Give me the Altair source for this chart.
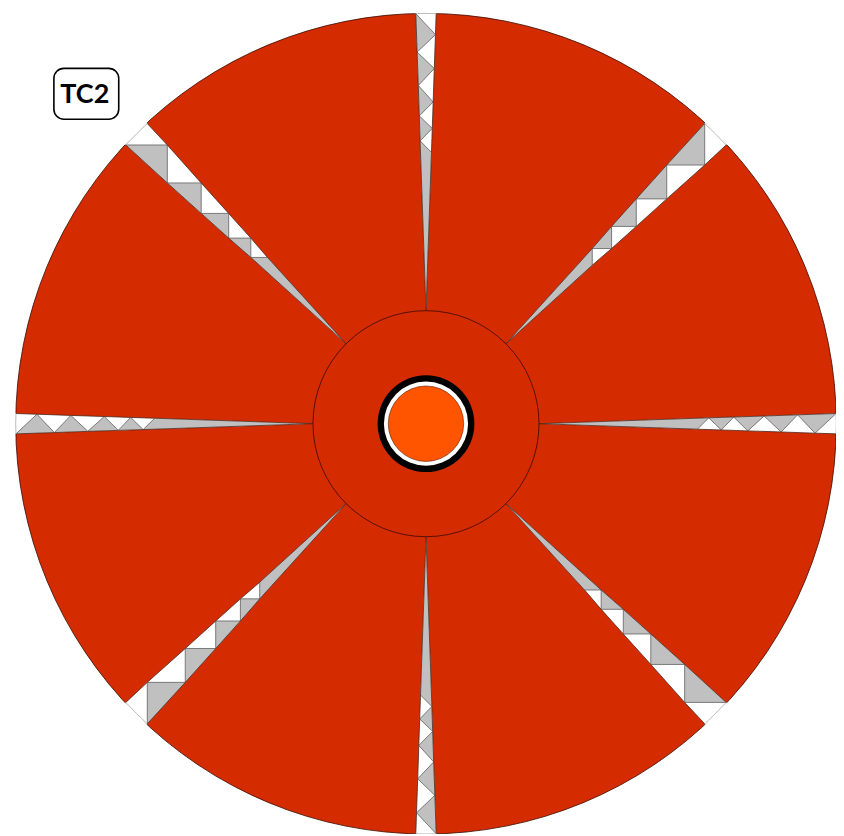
import math
import altair as alt
import pandas as pd

# Geometry, in reference pixels
CENTER = (427.0, 423.7)
RIM_R = 411.3
HUB_R = 113.3
TIP_R = 113.5

# Gap directions (degrees clockwise from up), half width at rim, zigzag stations along the radius.
CARD_ANGLES = [0, 90, 180, 270]
DIAG_ANGLES = [45, 135, 225, 315]
CARD_HW = 10.2
DIAG_HW = 15.2
# stations from rim inward; sides alternate left / right
CARD_NODES = [411.0, 390.0, 372.5, 356.0, 339.0, 322.5, 308.5, 296.0, 283.5, 272.0]
DIAG_NODES = [410.3, 380.9, 354.0, 330.0, 308.4, 288.9, 271.4, 255.7, 242.0, 230.2]
CARD_WIDTHS = [10.2, 9.5, 8.9, 8.3, 7.7, 7.2, 6.7, 6.3, 5.9, 5.5]
DIAG_WIDTHS = [15.2, 14.2, 12.7, 11.3, 10.3, 9.2, 8.3, 7.4, 6.3, 5.5]

RED = "#D42B00"
ORANGE = "#FF5500"
GREY = "#C0C0C0"

rings = pd.DataFrame({
    "name": ["black", "white", "core"],
    "r": [48.5, 42.2, 37.8],
    "fill": ["#000000", "#FFFFFF", ORANGE],
})


def to_xy(angle, u, v):
    a = math.radians(angle)
    dx = u * math.sin(a) + v * math.cos(a)
    dy = -u * math.cos(a) + v * math.sin(a)
    return CENTER[0] + dx, CENTER[1] + dy


wedges, greys, zigs, sides, rims = [], [], [], [], []


def push(rows, pid, pts):
    for i, (x, y) in enumerate(pts):
        rows.append({"pid": pid, "i": i, "x": x, "y": y})


gaps = [(a, CARD_HW, CARD_NODES, CARD_WIDTHS) for a in CARD_ANGLES] + [(a, DIAG_HW, DIAG_NODES, DIAG_WIDTHS) for a in DIAG_ANGLES]
for angle, hw, nodes, widths in gaps:
    rim_u = nodes[0]
    tip = to_xy(angle, TIP_R, 0)
    zz = [to_xy(angle, u, (-1 if k % 2 == 0 else 1) * w) for k, (u, w) in enumerate(zip(nodes, widths))]
    left_edge = zz[0::2]
    rrim = to_xy(angle, rim_u, hw)
    right_edge = [rrim] + zz[1::2]
    lout = to_xy(angle, rim_u + 1.2, -hw)
    rout = to_xy(angle, rim_u + 1.2, hw)
    mid_out = to_xy(angle, rim_u + 2.2, 0)
    push(wedges, f"{angle}", [tip] + left_edge[::-1] + [lout, mid_out, rout] + right_edge)
    for k in range(0, len(nodes) - 2, 2):
        push(greys, f"{angle}-{k}", [zz[k], zz[k + 1], zz[k + 2]])
    push(greys, f"{angle}-tip", [zz[-2], zz[-1], tip])
    push(zigs, f"{angle}", zz)
    push(sides, f"{angle}-l", left_edge + [tip])
    push(sides, f"{angle}-r", right_edge + [tip])
    push(rims, f"{angle}", [zz[0], to_xy(angle, rim_u + 0.3, 0), rrim])

X_SCALE = alt.Scale(domain=[8, 838], nice=False, zero=False)
Y_SCALE = alt.Scale(domain=[834, 8], nice=False, zero=False)
X = alt.X("x:Q", scale=X_SCALE, axis=None)
Y = alt.Y("y:Q", scale=Y_SCALE, axis=None)


def circle(r, fill, stroke=None, sw=0):
    kw = dict(size=(2 * r) ** 2, fill=fill, opacity=1, fillOpacity=1)
    if stroke:
        kw.update(stroke=stroke, strokeWidth=sw)
    else:
        kw.update(strokeWidth=0)
    return alt.Chart(pd.DataFrame({"x": [CENTER[0]], "y": [CENTER[1]]})).mark_circle(**kw).encode(x=X, y=Y)


def poly(rows, fill):
    return alt.Chart(pd.DataFrame(rows)).mark_line(fill=fill, strokeWidth=0, interpolate="linear-closed").encode(
        x=X, y=Y, detail="pid:N", order="i:Q"
    )


def lines(rows, color, width):
    return alt.Chart(pd.DataFrame(rows)).mark_line(color=color, strokeWidth=width).encode(
        x=X, y=Y, detail="pid:N", order="i:Q"
    )


label = pd.DataFrame({"x": [54.0], "x2": [119.0], "y": [67.5], "y2": [118.5], "tx": [85.0], "ty": [94.0], "t": ["TC2"]})
box = alt.Chart(label).mark_rect(fill="white", stroke="black", strokeWidth=1.6, cornerRadius=10).encode(
    x=X, x2="x2:Q", y=Y, y2="y2:Q"
)
text = alt.Chart(label).mark_text(
    font="Lato", fontWeight="bold", fontSize=27, color="black", align="center", baseline="middle"
).encode(x=alt.X("tx:Q", scale=X_SCALE, axis=None), y=alt.Y("ty:Q", scale=Y_SCALE, axis=None), text="t:N")

layers = [
    circle(RIM_R, RED, "#3A0A00", 0.8),
    poly(wedges, "#FFFFFF"),
    poly(greys, GREY),
    lines(zigs, "#6E6E6E", 0.9),
    lines(sides, "#4A2A20", 0.8),
    lines(rims, "#AAAAAA", 0.8),
    circle(HUB_R, RED, "#3A0A00", 0.8),
]
for _, row in rings.iterrows():
    layers.append(circle(row["r"], row["fill"], "#5A1A00" if row["name"] == "core" else None, 0.6))
layers += [box, text]

chart = alt.layer(*layers).properties(
    width=830, height=826, padding=0, autosize=alt.AutoSizeParams(type="none"), background="white"
).configure_view(stroke=None)

chart.save("out.html", embed_options={"renderer": "svg", "actions": False})
